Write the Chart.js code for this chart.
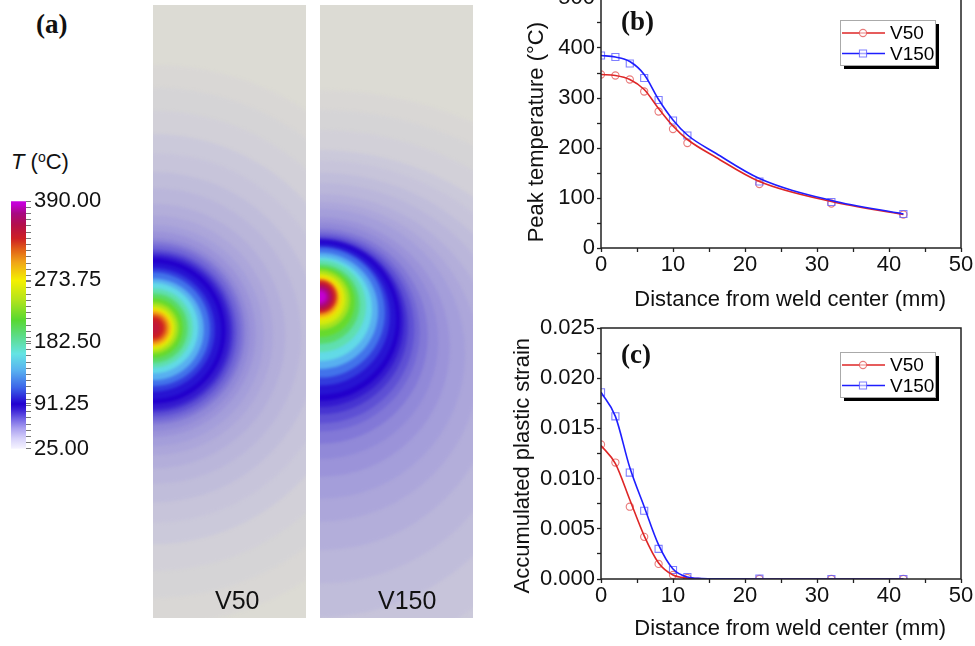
<!DOCTYPE html>
<html>
<head>
<meta charset="utf-8">
<script src="https://cdn.jsdelivr.net/npm/chart.js@4.4.1/dist/chart.umd.min.js"></script>
<style>
  body { margin: 0; background: #fff; }
  #fig { position: relative; width: 975px; height: 646px; overflow: hidden; font-family: "Liberation Sans", Arial, sans-serif; color: #111; }
  canvas { position: absolute; }
  .tag { position: absolute; font: bold 27px "Liberation Serif", "Times New Roman", serif; line-height: 1; }
  .lbl { position: absolute; font-size: 25px; line-height: 1; }
  .sup { font-size: 14px; position: relative; top: -7px; }
</style>
</head>
<body>
<div id="fig">
  <canvas id="cbar" width="110" height="280" style="left:0;top:185px"></canvas>
  <canvas id="fieldV50" width="153" height="613" style="left:153px;top:5px"></canvas>
  <canvas id="fieldV150" width="153" height="613" style="left:320px;top:5px"></canvas>
  <canvas id="peakChart" width="475" height="333" style="left:500px;top:-20px"></canvas>
  <canvas id="strainChart" width="475" height="334" style="left:500px;top:308px"></canvas>
  <div class="tag" style="left:36px;top:11px">(a)</div>
  <div class="tag" style="left:621px;top:8px">(b)</div>
  <div class="tag" style="left:621px;top:341px">(c)</div>
  <div class="lbl" style="left:11px;top:151px;font-size:22px"><i>T</i> (<span class="sup">o</span>C)</div>
  <div class="lbl" style="left:215px;top:588px">V50</div>
  <div class="lbl" style="left:378px;top:588px">V150</div>
</div>
<script>
// (b) peak temperature, markers
const distMarks = [0, 2, 4, 6, 8, 10, 12, 22, 32, 42];
const peakV50 = [347, 345, 337, 313, 273, 238, 210, 128, 89, 67];
const peakV150 = [385, 382, 369, 340, 296, 255, 225, 133, 92, 68];
// (b) fitted curves
const distFitPeak = [0, 2, 4, 6, 8, 10, 12, 16, 22, 32, 42];
const peakFitV50 = [347, 345, 337, 317, 279, 244, 217, 181, 133, 93, 67];
const peakFitV150 = [385, 382, 373, 347, 297, 256, 226, 189, 139, 95, 68];

// (c) accumulated plastic strain
const strainV50 = [0.0134, 0.0116, 0.0072, 0.0042, 0.0015, 0.0004, 0.0001, 0, 0, 0];
const strainV150 = [0.0186, 0.0162, 0.0106, 0.0068, 0.0030, 0.0009, 0.0002, 0.00003, 0, 0];
const distFitStrain = [0, 2, 4, 6, 8, 10, 12, 14, 16, 22, 32, 42];
const strainFitV50 = [0.0133, 0.0115, 0.0079, 0.0043, 0.0016, 0.0004, 0.0001, 0.00003, 0, 0, 0, 0];
const strainFitV150 = [0.0186, 0.0162, 0.0111, 0.0072, 0.0034, 0.0010, 0.0002, 0.00005, 0.00001, 0, 0, 0];

// (a) temperature field: contour level (C), radius and centre height (panel units, 25 x 100)
const levelsV50 = [26, 27, 28, 30, 32, 35, 38, 42, 46, 50, 55, 60, 65, 70, 75, 80, 85, 90, 95, 105,
  120, 140, 160, 180, 200, 220, 240, 260, 280, 300, 320, 335, 345];
const radiusV50 = [45.8, 41.7, 37.6, 33.5, 30.2, 27.0, 24.2, 21.6, 19.6, 18.1, 16.8, 15.8, 15.0, 14.4, 13.7, 13.1, 12.6, 11.9, 11.1, 10.1,
  9.3, 8.3, 7.4, 6.5, 5.7, 4.9, 4.2, 3.6, 3.1, 2.8, 2.3, 1.8, 1.1];
const centerV50 = [44.5, 44.9, 45.2, 45.5, 45.7, 45.8, 46.0, 46.0, 46.1, 46.1, 46.3, 46.3, 46.5, 46.5, 46.5, 46.6, 46.6, 46.8, 46.8, 47.0,
  47.1, 47.1, 47.3, 47.3, 47.3, 47.3, 47.3, 47.3, 47.3, 47.3, 47.3, 47.3, 47.3];
const levelsV150 = [26, 27, 28, 30, 32, 35, 38, 42, 46, 50, 55, 60, 65, 70, 75, 80, 85, 90, 95, 105,
  120, 140, 160, 180, 200, 220, 240, 260, 280, 300, 320, 340, 360, 375, 385];
const radiusV150 = [62.1, 56.4, 50.7, 44.9, 40.8, 36.3, 32.7, 29.1, 26.1, 23.7, 21.2, 19.3, 17.6, 16.3, 15.4, 14.4, 13.7, 13.1, 12.4, 11.4,
  10.6, 9.5, 8.5, 7.5, 6.5, 5.7, 4.9, 4.2, 3.6, 3.1, 2.8, 2.5, 2.0, 1.5, 1.0];
const centerV150 = [24.1, 26.6, 29.0, 31.5, 33.9, 36.4, 38.3, 40.1, 41.8, 43.1, 44.2, 45.2, 46.0, 46.7, 47.1, 47.6, 48.1, 48.5, 48.8, 49.3,
  49.8, 50.1, 50.4, 50.9, 51.2, 51.5, 51.9, 52.0, 52.2, 52.2, 52.4, 52.4, 52.4, 52.4, 52.4];

const cbarMajor = [25, 91.25, 182.5, 273.75, 390];

// colour maps
const hotStops = [
  [115, [60, 100, 232]], [140, [88, 176, 240]], [165, [100, 228, 228]], [190, [92, 220, 140]],
  [215, [88, 216, 48]], [245, [180, 228, 28]], [273, [244, 240, 0]], [300, [240, 164, 24]],
  [320, [224, 92, 24]], [335, [205, 32, 36]], [355, [180, 15, 75]], [372, [168, 8, 130]],
  [385, [195, 0, 210]], [390, [200, 0, 224]]
];
const barStops = [[25, [246, 244, 255]], [40, [215, 210, 250]], [55, [170, 160, 240]], [70, [110, 95, 228]],
  [82, [60, 35, 215]], [91, [34, 0, 208]]].concat(hotStops);
const fieldStops = [[25, [220, 219, 212]], [30, [203, 201, 218]], [38, [186, 182, 218]], [48, [168, 162, 218]],
  [60, [145, 137, 216]], [72, [108, 96, 214]], [82, [62, 42, 208]], [90, [34, 0, 204]]].concat(hotStops);

function colorAt(stops, t) {
  if (t <= stops[0][0]) return 'rgb(' + stops[0][1].join(',') + ')';
  for (let i = 1; i < stops.length; i++) {
    if (t <= stops[i][0]) {
      const [t0, c0] = stops[i - 1], [t1, c1] = stops[i];
      const f = (t - t0) / (t1 - t0);
      return 'rgb(' + c0.map((v, k) => Math.round(v + (c1[k] - v) * f)).join(',') + ')';
    }
  }
  return 'rgb(' + stops[stops.length - 1][1].join(',') + ')';
}

Chart.defaults.font.family = '"Liberation Sans", Arial, sans-serif';
Chart.defaults.color = '#111';

const RED = 'rgb(222, 38, 38)';
const BLUE = 'rgb(30, 30, 255)';
const RED_MARK = 'rgba(228, 90, 90, 0.8)';
const BLUE_MARK = 'rgba(95, 95, 255, 0.8)';

// colour bar
function cbarGradient(chart) {
  const ys = chart.scales.y;
  if (!chart.chartArea || !ys) return 'rgb(246,244,255)';
  const g = chart.ctx.createLinearGradient(0, ys.getPixelForValue(25), 0, ys.getPixelForValue(390));
  barStops.forEach(([t, c]) => g.addColorStop((t - 25) / 365, 'rgb(' + c.join(',') + ')'));
  return g;
}

new Chart(document.getElementById('cbar'), {
  type: 'bar',
  data: {
    labels: [''],
    datasets: [{
      data: [[cbarMajor[0], cbarMajor[cbarMajor.length - 1]]],
      backgroundColor: ctx => cbarGradient(ctx.chart),
      borderWidth: 0,
      barPercentage: 1,
      categoryPercentage: 1
    }]
  },
  options: {
    animation: false,
    responsive: false,
    events: [],
    layout: { padding: { left: 11, top: 14, bottom: 14, right: 0 } },
    plugins: { legend: { display: false }, tooltip: { enabled: false } },
    scales: {
      x: { display: false },
      y: {
        position: 'right',
        min: 25,
        max: 390,
        afterFit: s => { s.width = 84; },
        afterBuildTicks: s => {
          const vals = cbarMajor.slice();
          for (let k = 1; k < 40; k++) vals.push(25 + k * 9.125);
          vals.sort((a, b) => a - b);
          s.ticks = vals.map(v => ({ value: v }));
        },
        ticks: {
          callback: v => cbarMajor.includes(v) ? v.toFixed(2) : '',
          padding: 3,
          autoSkip: false,
          font: { size: 22 }
        },
        grid: { drawOnChartArea: false, tickLength: 5, tickColor: '#777', tickWidth: 1 },
        border: { display: false }
      }
    }
  }
});

// temperature field panels
const fieldBase = {
  id: 'fieldBase',
  beforeDatasetsDraw(chart) {
    const { ctx, chartArea: a } = chart;
    ctx.fillStyle = colorAt(fieldStops, 25);
    ctx.fillRect(a.left, a.top, a.right - a.left, a.bottom - a.top);
    ctx.filter = 'blur(1.5px)';
  },
  afterDatasetsDraw(chart) {
    chart.ctx.filter = 'none';
  }
};

function drawField(id, levels, radius, center) {
  new Chart(document.getElementById(id), {
    type: 'scatter',
    data: {
      datasets: [{
        data: levels.map((t, i) => ({ x: 0, y: center[i], r: radius[i], t: t })),
        pointRadius: ctx => {
          const xs = ctx.chart.scales.x;
          return xs.getPixelForValue(ctx.raw.r) - xs.getPixelForValue(0);
        },
        pointBackgroundColor: ctx => colorAt(fieldStops, ctx.raw.t),
        pointBorderWidth: 0,
        pointHoverRadius: 0,
        clip: 0
      }]
    },
    options: {
      animation: false,
      responsive: false,
      events: [],
      layout: { padding: 0 },
      plugins: { legend: { display: false }, tooltip: { enabled: false } },
      scales: {
        x: { display: false, min: 0, max: 25 },
        y: { display: false, min: 0, max: 100 }
      }
    },
    plugins: [fieldBase]
  });
}

drawField('fieldV50', levelsV50, radiusV50, centerV50);
drawField('fieldV150', levelsV150, radiusV150, centerV150);

// line charts
const frame = {
  id: 'frame',
  afterDatasetsDraw(chart) {
    const { ctx, chartArea: a } = chart;
    ctx.save();
    ctx.strokeStyle = '#222';
    ctx.lineWidth = 1.5;
    ctx.strokeRect(a.left, a.top, a.right - a.left, a.bottom - a.top);
    ctx.restore();
  }
};

const boxLegend = {
  id: 'boxLegend',
  afterDraw(chart, args, opts) {
    const { ctx, chartArea: a } = chart;
    const x = a.right - 121, y = a.top + opts.top, w = 95, h = 45;
    ctx.save();
    ctx.fillStyle = '#000';
    ctx.fillRect(x + 4, y + 4, w, h);
    ctx.fillStyle = '#fff';
    ctx.fillRect(x, y, w, h);
    ctx.strokeStyle = '#aaa';
    ctx.lineWidth = 1;
    ctx.strokeRect(x + 0.5, y + 0.5, w, h);
    [[0, 2], [1, 3]].forEach(([li, pi], i) => {
      const line = chart.data.datasets[li], pts = chart.data.datasets[pi];
      const cy = y + 13 + i * 20.5;
      ctx.strokeStyle = line.borderColor;
      ctx.lineWidth = line.borderWidth;
      ctx.beginPath();
      ctx.moveTo(x + 2, cy);
      ctx.lineTo(x + 45, cy);
      ctx.stroke();
      ctx.strokeStyle = pts.pointBorderColor;
      ctx.fillStyle = 'rgba(255,255,255,0.6)';
      ctx.lineWidth = pts.pointBorderWidth;
      Chart.helpers.drawPoint(ctx, { pointStyle: pts.pointStyle, radius: pts.pointRadius, borderWidth: pts.pointBorderWidth, rotation: 0 }, x + 23, cy);
      ctx.fillStyle = '#000';
      ctx.font = '19px "Liberation Sans", Arial, sans-serif';
      ctx.textBaseline = 'middle';
      ctx.fillText(pts.label, x + 50, cy + 1);
    });
    ctx.restore();
  }
};

function pairs(xs, ys) {
  return xs.map((x, i) => ({ x: x, y: ys[i] }));
}

function curveChart(id, cfg) {
  new Chart(document.getElementById(id), {
    type: 'scatter',
    data: {
      datasets: [
        { label: 'V50 fit', data: pairs(cfg.fitX, cfg.fit50), showLine: true, borderColor: RED, borderWidth: 1.6,
          pointRadius: 0, cubicInterpolationMode: 'monotone', order: 1 },
        { label: 'V150 fit', data: pairs(cfg.fitX, cfg.fit150), showLine: true, borderColor: BLUE, borderWidth: 1.6,
          pointRadius: 0, cubicInterpolationMode: 'monotone', order: 0 },
        { label: 'V50', data: pairs(distMarks, cfg.mark50), pointStyle: 'circle', pointRadius: 3.6,
          pointBorderColor: RED_MARK, pointBackgroundColor: 'rgba(0,0,0,0)', pointBorderWidth: 1.1, order: 3 },
        { label: 'V150', data: pairs(distMarks, cfg.mark150), pointStyle: 'rect', pointRadius: 5,
          pointBorderColor: BLUE_MARK, pointBackgroundColor: 'rgba(0,0,0,0)', pointBorderWidth: 1.1, order: 2 }
      ]
    },
    options: {
      animation: false,
      responsive: false,
      events: [],
      layout: { padding: { top: cfg.padTop, right: 14, left: 0, bottom: 0 } },
      plugins: { legend: { display: false }, tooltip: { enabled: false }, boxLegend: { top: cfg.legendTop } },
      scales: {
        x: {
          type: 'linear',
          min: 0,
          max: 50,
          afterFit: s => { s.height = cfg.xAxisH; },
          ticks: { stepSize: 5, autoSkip: false, maxRotation: 0, padding: 0, font: { size: 22 },
            callback: v => v % 10 === 0 ? String(v) : '' },
          grid: { drawOnChartArea: false, tickLength: 4, tickColor: '#222', tickWidth: 1.3 },
          border: { display: false },
          // leading spaces nudge the centred title right, as in the source figure
          title: { display: true, text: '   Distance from weld center (mm)', font: { size: 22 }, padding: { top: 0, bottom: 0 } }
        },
        y: {
          min: 0,
          max: cfg.yMax,
          afterFit: s => { s.width = 101; },
          afterBuildTicks: s => {
            const vals = [];
            for (let k = 0; k <= 10; k++) vals.push(k * cfg.yMax / 10);
            s.ticks = vals.map(v => ({ value: v }));
          },
          ticks: { autoSkip: false, padding: 2, font: { size: 22 }, callback: cfg.yLabel },
          grid: { drawOnChartArea: false, tickLength: 4, tickColor: '#222', tickWidth: 1.3 },
          border: { display: false },
          title: { display: true, text: cfg.yTitle, font: { size: 22 }, padding: { top: cfg.titlePad, bottom: 0 } }
        }
      }
    },
    plugins: [frame, boxLegend]
  });
}

curveChart('peakChart', {
  fitX: distFitPeak, fit50: peakFitV50, fit150: peakFitV150,
  mark50: peakV50, mark150: peakV150,
  yMax: 500, padTop: 18, legendTop: 22, titlePad: 24, xAxisH: 65,
  yTitle: 'Peak temperature (°C)   ',
  yLabel: v => Math.round(v) % 100 === 0 ? String(Math.round(v)) : ''
});

curveChart('strainChart', {
  fitX: distFitStrain, fit50: strainFitV50, fit150: strainFitV150,
  mark50: strainV50, mark150: strainV150,
  yMax: 0.025, padTop: 20, legendTop: 24, titlePad: 10, xAxisH: 63,
  yTitle: 'Accumulated plastic strain    ',
  yLabel: v => Math.abs(v * 200 - Math.round(v * 200)) < 1e-6 ? v.toFixed(3) : ''
});
</script>
</body>
</html>
